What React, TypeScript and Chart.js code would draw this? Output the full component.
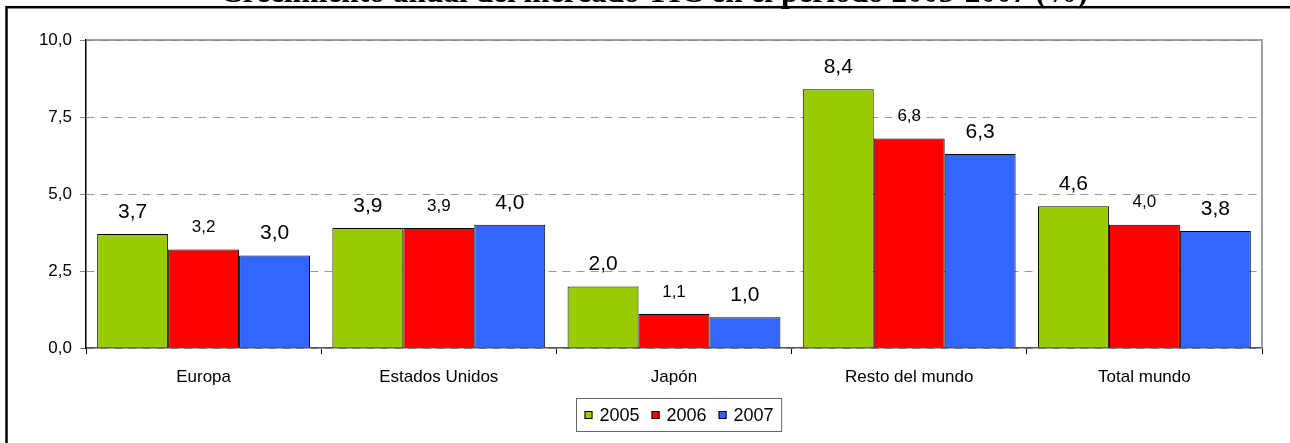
import { useEffect, useRef } from "react";
import { Chart, registerables } from "chart.js";

Chart.register(...registerables);

const TITLE = "Crecimiento anual del mercado TIC en el periodo 2005-2007 (%)";
const categories = ["Europa", "Estados Unidos", "Japón", "Resto del mundo", "Total mundo"];
const seriesLabels = ["2005", "2006", "2007"];
const values2005 = [3.7, 3.9, 2.0, 8.4, 4.6];
const values2006 = [3.2, 3.9, 1.1, 6.8, 4.0];
const values2007 = [3.0, 4.0, 1.0, 6.3, 3.8];
const yMin = 0;
const yMax = 10;
const yStep = 2.5;

const colors = ["#99CC00", "#FF0000", "#3366FF"];
const labelSizes = [21, 17, 21];
const FONT = "'Liberation Sans', Arial, sans-serif";
const fmt = (v: number) => v.toFixed(1).replace(".", ",");

const framePlugin = {
  id: "frame",
  beforeDraw(chart: any) {
    const ctx = chart.ctx;
    ctx.save();
    ctx.fillStyle = "#fff";
    ctx.fillRect(0, 0, chart.width, chart.height);
    // clipped title
    ctx.font = "bold 20px 'Liberation Serif', 'Times New Roman', serif";
    const w = ctx.measureText(TITLE).width;
    const size = (20 * 868) / w;
    ctx.font = `bold ${size}px 'Liberation Serif', 'Times New Roman', serif`;
    ctx.fillStyle = "#000";
    ctx.textAlign = "left";
    ctx.textBaseline = "alphabetic";
    ctx.fillText(TITLE, 220, 1.5);
    // outer frame
    ctx.strokeStyle = "#000";
    ctx.lineWidth = 2.5;
    ctx.strokeRect(6.5, 7.2, chart.width + 20, chart.height + 20);
    ctx.restore();
  },
  afterDraw(chart: any) {
    const ctx = chart.ctx;
    const a = chart.chartArea;
    ctx.save();
    // plot frame top/right
    ctx.strokeStyle = "#808080";
    ctx.lineWidth = 1.5;
    ctx.beginPath();
    ctx.moveTo(a.left, a.top);
    ctx.lineTo(a.right, a.top);
    ctx.lineTo(a.right, a.bottom);
    ctx.stroke();

    // legend
    ctx.font = `18px ${FONT}`;
    ctx.textBaseline = "middle";
    ctx.textAlign = "left";
    const sq = 8;
    const gapSqText = 7;
    const gapItems = 12;
    const pad = 8;
    const items = chart.data.datasets.map((d: any) => ({
      label: d.label,
      color: d.backgroundColor,
      tw: ctx.measureText(d.label).width,
    }));
    let total = 0;
    items.forEach((it: any, i: number) => {
      total += sq + gapSqText + it.tw + (i < items.length - 1 ? gapItems : 0);
    });
    const boxW = total + pad * 2;
    const cx = 679;
    const boxL = Math.round(cx - boxW / 2) + 0.5;
    const boxT = 398.5;
    const boxH = 33;
    ctx.strokeStyle = "#666";
    ctx.lineWidth = 1;
    ctx.strokeRect(boxL, boxT, boxW, boxH);
    const cy = boxT + boxH / 2;
    let x = boxL + pad;
    items.forEach((it: any) => {
      ctx.fillStyle = it.color;
      ctx.fillRect(x, cy - sq / 2, sq, sq);
      ctx.strokeStyle = "#000";
      ctx.strokeRect(x + 0.5, cy - sq / 2 + 0.5, sq - 1, sq - 1);
      x += sq + gapSqText;
      ctx.fillStyle = "#000";
      ctx.fillText(it.label, x, cy + 1);
      x += it.tw + gapItems;
    });
    ctx.restore();
  },
  afterDatasetsDraw(chart: any) {
    const ctx = chart.ctx;
    ctx.save();
    ctx.fillStyle = "#000";
    ctx.textAlign = "center";
    ctx.textBaseline = "middle";
    chart.data.datasets.forEach((ds: any, di: number) => {
      const meta = chart.getDatasetMeta(di);
      ctx.font = `${labelSizes[di]}px ${FONT}`;
      meta.data.forEach((bar: any, i: number) => {
        ctx.fillText(fmt(ds.data[i]), bar.x, bar.y - 22);
      });
    });
    ctx.restore();
  },
};

export default function App() {
  const ref = useRef<HTMLCanvasElement | null>(null);
  useEffect(() => {
    if (!ref.current) return;
    const series = [values2005, values2006, values2007];
    const chart = new Chart(ref.current, {
      type: "bar",
      data: {
        labels: categories,
        datasets: series.map((vals, i) => ({
          label: seriesLabels[i],
          data: vals,
          backgroundColor: colors[i],
          borderColor: "#000",
          borderWidth: 1,
          categoryPercentage: 0.905,
          barPercentage: 1,
        })),
      },
      options: {
        animation: false,
        responsive: false,
        devicePixelRatio: 1,
        layout: { padding: { top: 40, right: 28, left: 0, bottom: 0 } },
        plugins: {
          legend: { display: false },
          tooltip: { enabled: false },
          title: { display: false },
        },
        scales: {
          x: {
            afterFit: (s: any) => {
              s.height = 95;
            },
            grid: {
              display: true,
              drawOnChartArea: false,
              drawTicks: true,
              tickLength: 6,
              color: "#000",
              offset: true,
            },
            border: { display: true, color: "#555", width: 1.5 },
            ticks: {
              color: "#000",
              font: { family: FONT, size: 17 },
              padding: 13,
              maxRotation: 0,
            },
          },
          y: {
            min: yMin,
            max: yMax,
            afterFit: (s: any) => {
              s.width = 86;
            },
            grid: {
              color: "#999",
              tickColor: "#808080",
              tickLength: 6,
              lineWidth: 1,
            },
            border: { display: true, color: "#000", width: 1.5, dash: [8, 6] },
            ticks: {
              stepSize: yStep,
              color: "#000",
              font: { family: FONT, size: 17 },
              padding: 8,
              callback: (v: any) => fmt(Number(v)),
            },
          },
        },
      },
      plugins: [framePlugin],
    });
    return () => chart.destroy();
  }, []);
  return (
    <div style={{ position: "absolute", left: 0, top: 0, width: 1290, height: 443 }}>
      <canvas ref={ref} width={1290} height={443} style={{ display: "block" }} />
    </div>
  );
}
